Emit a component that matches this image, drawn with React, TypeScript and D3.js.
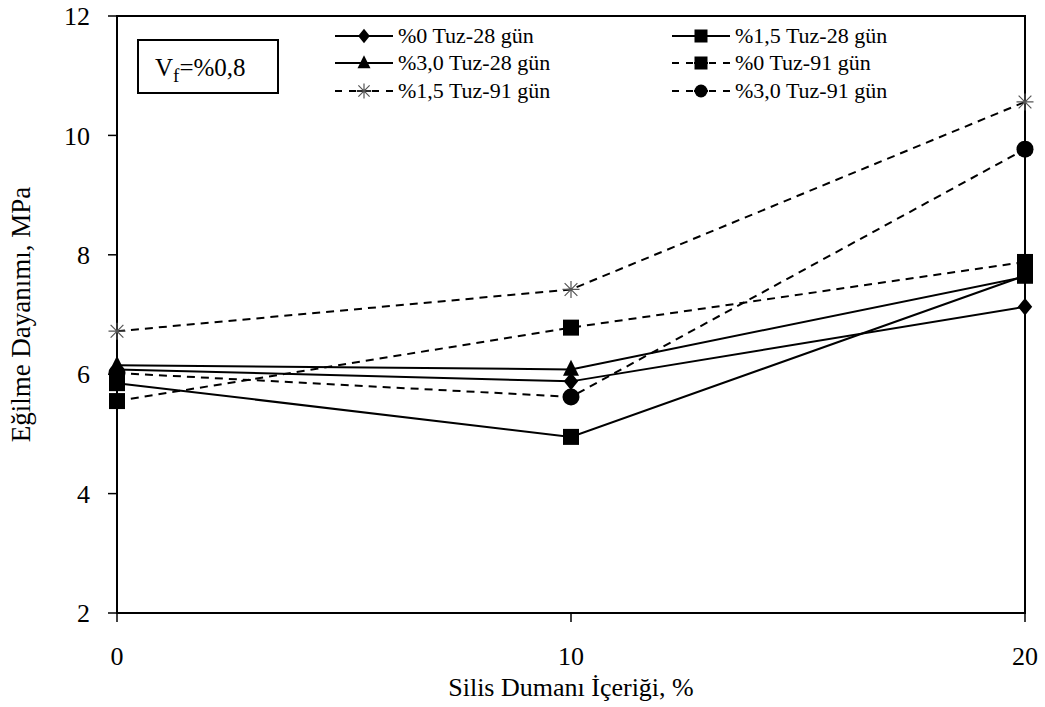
import { useEffect, useRef } from "react";
import * as d3 from "d3";

// silis dumanı içeriği (%)
const xValues = [0, 10, 20];
const xTicks = [0, 10, 20];
const yTicks = [2, 4, 6, 8, 10, 12];

// eğilme dayanımı (MPa)
const tuz0_28 = [6.08, 5.88, 7.13];
const tuz15_28 = [5.85, 4.95, 7.65];
const tuz30_28 = [6.15, 6.08, 7.63];
const tuz0_91 = [5.55, 6.78, 7.88];
const tuz15_91 = [6.72, 7.42, 10.56];
const tuz30_91 = [6.02, 5.62, 9.77];

type Series = { name: string; values: number[]; marker: string; dashed: boolean };

const series: Series[] = [
  { name: "%0 Tuz-28 gün", values: tuz0_28, marker: "diamond", dashed: false },
  { name: "%1,5 Tuz-28 gün", values: tuz15_28, marker: "square", dashed: false },
  { name: "%3,0 Tuz-28 gün", values: tuz30_28, marker: "triangle", dashed: false },
  { name: "%0 Tuz-91 gün", values: tuz0_91, marker: "square", dashed: true },
  { name: "%1,5 Tuz-91 gün", values: tuz15_91, marker: "star", dashed: true },
  { name: "%3,0 Tuz-91 gün", values: tuz30_91, marker: "circle", dashed: true },
];

const FONT = "Liberation Serif, Times New Roman, serif";

function drawMarker(g: any, kind: string, x: number, y: number, s: number) {
  if (kind === "diamond") {
    g.append("path")
      .attr("d", `M${x},${y - s * 0.55}L${x + s * 0.45},${y}L${x},${y + s * 0.55}L${x - s * 0.45},${y}Z`)
      .attr("fill", "#000");
  } else if (kind === "square") {
    g.append("rect")
      .attr("x", x - s / 2).attr("y", y - s / 2)
      .attr("width", s).attr("height", s)
      .attr("fill", "#000");
  } else if (kind === "triangle") {
    g.append("path")
      .attr("d", `M${x},${y - s * 0.6}L${x + s * 0.5},${y + s * 0.4}L${x - s * 0.5},${y + s * 0.4}Z`)
      .attr("fill", "#000");
  } else if (kind === "circle") {
    g.append("circle").attr("cx", x).attr("cy", y).attr("r", s / 2).attr("fill", "#000");
  } else if (kind === "star") {
    const r = s / 2;
    const p = [
      `M${x - r},${y}L${x + r},${y}`,
      `M${x},${y - r}L${x},${y + r}`,
      `M${x - r * 0.75},${y - r * 0.75}L${x + r * 0.75},${y + r * 0.75}`,
      `M${x - r * 0.75},${y + r * 0.75}L${x + r * 0.75},${y - r * 0.75}`,
    ].join("");
    g.append("path").attr("d", p).attr("stroke", "#555").attr("stroke-width", 1.2).attr("fill", "none");
  }
}

const Chart = () => {
  const ref = useRef<SVGSVGElement | null>(null);

  useEffect(() => {
    const width = 1045;
    const height = 707;
    const margin = { top: 16, right: 20, bottom: 94, left: 117 };

    const svg = d3.select(ref.current);
    svg.selectAll("*").remove();

    const x = d3.scaleLinear().domain([0, 20]).range([margin.left, width - margin.right]);
    const y = d3.scaleLinear().domain([2, 12]).range([height - margin.bottom, margin.top]);

    // plot area border
    svg.append("rect")
      .attr("x", x(0)).attr("y", y(12))
      .attr("width", x(20) - x(0)).attr("height", y(2) - y(12))
      .attr("fill", "none").attr("stroke", "#000").attr("stroke-width", 2);

    // y ticks
    const yAxis = svg.append("g");
    yTicks.forEach((t) => {
      yAxis.append("line")
        .attr("x1", x(0) - 9).attr("x2", x(0))
        .attr("y1", y(t)).attr("y2", y(t))
        .attr("stroke", "#000").attr("stroke-width", 1.5);
      yAxis.append("text")
        .attr("x", x(0) - 27).attr("y", y(t))
        .attr("dy", "0.35em")
        .attr("text-anchor", "end")
        .attr("font-family", FONT)
        .attr("font-size", 26)
        .text(t);
    });

    // x ticks
    const xAxis = svg.append("g");
    xTicks.forEach((t) => {
      xAxis.append("line")
        .attr("x1", x(t)).attr("x2", x(t))
        .attr("y1", y(2)).attr("y2", y(2) + 9)
        .attr("stroke", "#000").attr("stroke-width", 1.5);
      xAxis.append("text")
        .attr("x", x(t)).attr("y", y(2) + 52)
        .attr("text-anchor", "middle")
        .attr("font-family", FONT)
        .attr("font-size", 26)
        .text(t);
    });

    // axis titles
    svg.append("text")
      .attr("x", (x(0) + x(20)) / 2).attr("y", 696)
      .attr("text-anchor", "middle")
      .attr("font-family", FONT)
      .attr("font-size", 26)
      .text("Silis Dumanı İçeriği, %");

    svg.append("text")
      .attr("transform", `translate(30,${(y(2) + y(12)) / 2}) rotate(-90)`)
      .attr("text-anchor", "middle")
      .attr("font-family", FONT)
      .attr("font-size", 27)
      .text("Eğilme Dayanımı, MPa");

    // lines
    const line = d3.line<number>()
      .x((_, i) => x(xValues[i]))
      .y((d) => y(d));

    series.forEach((s) => {
      svg.append("path")
        .datum(s.values)
        .attr("d", line)
        .attr("fill", "none")
        .attr("stroke", "#000")
        .attr("stroke-width", 2)
        .attr("stroke-dasharray", s.dashed ? "8,6" : null);
    });

    // markers
    series.forEach((s) => {
      const g = svg.append("g");
      s.values.forEach((v, i) => {
        const size = s.marker === "star" ? 17 : s.marker === "circle" ? 17 : 16;
        drawMarker(g, s.marker, x(xValues[i]), y(v), size);
      });
    });

    // Vf box
    svg.append("rect")
      .attr("x", 138).attr("y", 40).attr("width", 140).attr("height", 53)
      .attr("fill", "#fff").attr("stroke", "#000").attr("stroke-width", 2);
    const vf = svg.append("text")
      .attr("x", 155).attr("y", 76)
      .attr("font-family", FONT)
      .attr("font-size", 25);
    vf.append("tspan").text("V");
    vf.append("tspan").attr("font-size", 19).attr("dy", 6).text("f");
    vf.append("tspan").attr("dy", -6).text("=%0,8");

    // legend
    const legendRows = [36, 63, 91];
    const legendCols = [335, 672];
    series.forEach((s, i) => {
      const col = i % 2;
      const row = Math.floor(i / 2);
      const lx = legendCols[col];
      const ly = legendRows[row];
      const g = svg.append("g");
      if (s.dashed) {
        [[0, 7], [14, 21], [22, 36], [37, 44], [51, 58]].forEach(([a, b]) => {
          g.append("line")
            .attr("x1", lx + a).attr("x2", lx + b)
            .attr("y1", ly).attr("y2", ly)
            .attr("stroke", "#000").attr("stroke-width", 2);
        });
      } else {
        g.append("line")
          .attr("x1", lx).attr("x2", lx + 58)
          .attr("y1", ly).attr("y2", ly)
          .attr("stroke", "#000").attr("stroke-width", 2);
      }
      drawMarker(g, s.marker, lx + 29, ly, s.marker === "star" ? 15 : 13);
      g.append("text")
        .attr("x", lx + 63).attr("y", ly)
        .attr("dy", "0.33em")
        .attr("font-family", FONT)
        .attr("font-size", 22)
        .text(s.name);
    });
  }, []);

  return (
    <svg
      ref={ref}
      width={1045}
      height={707}
      style={{ position: "absolute", left: 0, top: 0, background: "#fff" }}
    />
  );
};

export default function App() {
  return <Chart />;
}
